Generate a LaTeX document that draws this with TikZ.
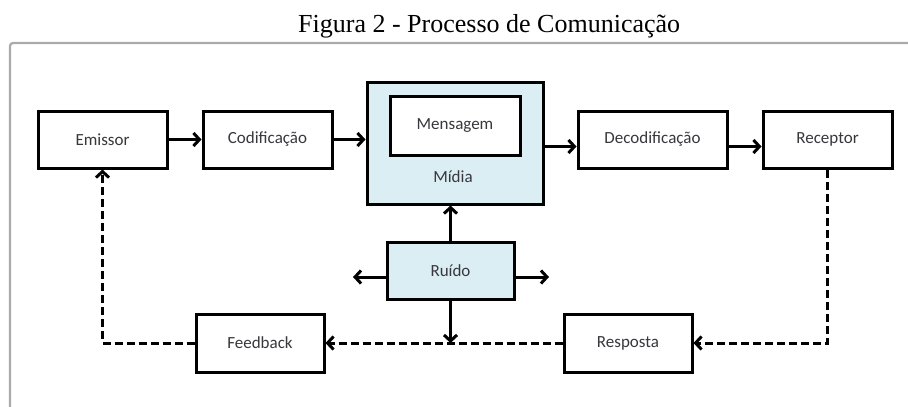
\documentclass[tikz,border=0pt]{standalone}
\usepackage{fontspec}
\setmainfont{Carlito}
\newfontfamily\titlefont{Liberation Serif}
\usetikzlibrary{arrows.meta}
\definecolor{lightblue}{RGB}{219,238,244}
\definecolor{framegray}{RGB}{170,170,170}
\definecolor{txtgray}{RGB}{55,55,60}
\begin{document}
\begin{tikzpicture}[x=1pt,y=-1pt,
  box/.style={draw=black,line width=3pt,fill=white,minimum height=57pt,inner sep=0pt,
    text=txtgray,font=\fontsize{17}{20}\selectfont},
  bluebox/.style={box,fill=lightblue},
  conn/.style={line width=3pt,-{Straight Barb[length=6pt,width=13pt]}},
  dconn/.style={conn,dash pattern=on 8pt off 4pt}
]
\useasboundingbox (0,0) rectangle (908,407);
\fill[white] (0,0) rectangle (908,407);
% frame
\draw[framegray,line width=2.2pt,rounded corners=3pt] (10,412) -- (10,43) -- (915,43);
% title
\node[anchor=base west,inner sep=0pt,font=\titlefont\fontsize{26}{30}\selectfont] (title) at (298,32.5) {Figura 2 - Processo de Comunicação};
% boxes
\node[box,minimum width=129pt] (emissor) at (102.5,139.5) {Emissor};
\node[box,minimum width=129pt] (codif) at (267.5,139.5) {Codificação};
\node[bluebox,minimum width=176pt,minimum height=122pt] (midia) at (455,143) {};
\node[box,minimum width=130pt,minimum height=59pt] (mensagem) at (455,125.5) {Mensagem};
\node[text=txtgray,font=\fontsize{17}{20}\selectfont,inner sep=0pt] (midialbl) at (453,177) {Mídia};
\node[box,minimum width=149pt] (decod) at (652.5,139.5) {Decodificação};
\node[box,minimum width=129pt] (receptor) at (827.5,139.5) {Receptor};
\node[bluebox,minimum width=127pt] (ruido) at (450.5,270.5) {Ruído};
\node[box,minimum width=128pt,minimum height=58pt] (feedback) at (260,343) {Feedback};
\node[box,minimum width=128pt,minimum height=58pt] (resposta) at (628,343) {Resposta};
% free ends
\coordinate (rl) at (353,277);
\coordinate (rr) at (549,277);
\coordinate (rd) at (ruido.south |- resposta.west);
% connectors
\draw[conn] (emissor.east) -- (codif.west);
\draw[conn] (codif.east) -- (codif.east -| midia.west);
\draw[conn] ([yshift=-7pt]decod.west -| midia.east) -- ([yshift=-7pt]decod.west);
\draw[conn] ([yshift=-7pt]decod.east) -- ([yshift=-7pt]receptor.west);
\draw[dconn] (receptor.south) |- (resposta.east);
\draw[dconn] (resposta.west) -- (feedback.east);
\draw[dconn] (feedback.west) -| (emissor.south);
\draw[conn] (ruido.north) -- (ruido.north |- midia.south);
\draw[conn] (ruido.west |- rl) -- (rl);
\draw[conn] (ruido.east |- rr) -- (rr);
\draw[conn] (ruido.south) -- (rd);
\end{tikzpicture}
\end{document}
